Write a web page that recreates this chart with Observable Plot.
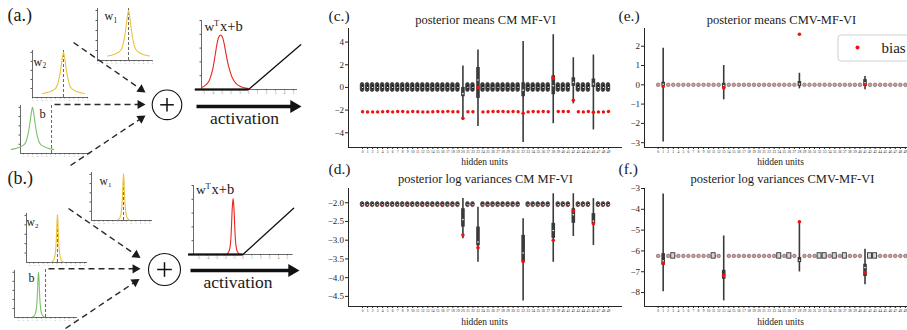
<!DOCTYPE html>
<html><head><meta charset="utf-8">
<script src="https://cdn.jsdelivr.net/npm/d3@7"></script>
<script src="https://cdn.jsdelivr.net/npm/@observablehq/plot@0.6"></script>
<style>
html,body{margin:0;padding:0;background:#fff;}
#fig{position:relative;width:907px;height:330px;overflow:hidden;background:#fff;font-family:'Liberation Serif','DejaVu Serif',serif;}
#fig > svg{position:absolute;overflow:visible;}
#fig text{font-family:'Liberation Serif','DejaVu Serif',serif;}
</style></head><body><div id="fig"></div>
<script>
// ---------------- DATA ----------------
const units = d3.range(50); // hidden units 0..49

// (c) posterior means CM MF-VI
const cYTicks = [-4, -2, 0, 2, 4];
const cSpecial = [20, 23, 32, 38, 42, 46];
const cMin = [-2.9, -3.45, -4.85, -3.2, -1.45, -3.75];
const cQ1  = [-0.82, -0.97, -0.82, -0.64, 0.1, 0.0];
const cMed = [-0.55, 0.65, -0.24, 0.15, 0.45, 0.3];
const cQ3  = [0.0, 1.76, 0.41, 1.03, 0.85, 0.74];
const cMax = [1.9, 3.3, 4.06, 4.65, 2.62, 2.86];
const cNormalCenter = 0;
const cBias = [-2.15,-2.17,-2.16,-2.16,-2.14,-2.12,-2.16,-2.13,-2.13,-2.16,
               -2.12,-2.15,-2.16,-2.16,-2.15,-2.12,-2.14,-2.11,-2.15,-2.15,
               -2.72,-2.15,-2.15,0.0,-2.16,-2.15,-2.13,-2.13,-2.12,-2.14,
               -2.12,-2.14,-2.28,-2.16,-2.13,-2.15,-2.12,-2.15,0.82,-2.13,
               -2.13,-2.13,-1.13,-2.14,-2.16,-2.13,-2.2,-2.16,-2.16,-2.13];

// (d) posterior log variances CM MF-VI
const dYTicks = [-4.5, -4.0, -3.5, -3.0, -2.5, -2.0];
const dSpecial = [20, 23, 32, 38, 42, 46];
const dMin = [-2.96, -3.59, -4.62, -3.59, -2.9, -3.14];
const dQ1  = [-2.65, -3.15, -3.59, -2.95, -2.55, -2.56];
const dMed = [-2.45, -3.05, -3.34, -2.74, -2.32, -2.49];
const dQ3  = [-2.16, -2.65, -2.87, -2.55, -2.16, -2.29];
const dMax = [-1.89, -2.12, -2.43, -1.76, -1.76, -1.89];
const dNormalCenter = -2.05;
const dBias = [-2.07,-2.08,-2.06,-2.07,-2.08,-2.07,-2.06,-2.07,-2.05,-2.09,
               -2.06,-2.07,-2.08,-2.07,-2.07,-2.06,-2.08,-2.07,-2.07,-2.06,
               -2.86,-2.07,-2.06,-3.2,-2.07,-2.08,-2.06,-2.07,-2.07,-2.06,
               -2.07,-2.06,-3.57,-2.07,-2.06,-2.07,-2.08,-2.07,-3.0,-2.06,
               -2.07,-2.08,-2.22,-2.07,-2.06,-2.07,-2.56,-2.07,-2.06,-2.07];

// (e) posterior means CMV-MF-VI
const eYTicks = [-3, -2, -1, 0, 1, 2];
const eSpecial = [1, 13, 28, 41];
const eMin = [-2.97, -0.78, -0.21, -0.26];
const eQ1  = [-0.07, -0.18, -0.09, -0.09];
const eMed = [0.03, -0.05, 0.04, 0.1];
const eQ3  = [0.13, 0.08, 0.17, 0.27];
const eMax = [1.9, 1.0, 0.6, 0.43];
const eNormalCenter = 0;
const eBias = [0,-0.09,0,0,0,0,0,0,0,0, 0,0,0,-0.16,0,0,0,0,0,0,
               0,0,0,0,0,0,0,0,2.62,0, 0,0,0,0,0,0,0,0,0,0,
               0,0.0,0,0,0,0,0,0,0,0];

// (f) posterior log variances CMV-MF-VI
const fYTicks = [-8, -7, -6, -5, -4, -3];
const fSpecial = [1, 13, 28, 41];
const fMin = [-7.96, -8.4, -7.01, -7.63];
const fQ1  = [-6.69, -7.36, -6.56, -7.23];
const fMed = [-6.48, -7.2, -6.45, -6.8];
const fQ3  = [-6.13, -6.93, -6.32, -6.64];
const fMax = [-3.27, -5.28, -4.61, -5.92];
const fNormalCenter = -6.24;
const fBoxUnits = [3, 11, 24, 26, 32, 33, 35, 37, 42, 43];
const fBias = [-6.24,-6.59,-6.24,-6.24,-6.24,-6.24,-6.24,-6.24,-6.24,-6.24,
               -6.24,-6.22,-6.24,-7.17,-6.24,-6.24,-6.24,-6.24,-6.24,-6.24,
               -6.24,-6.24,-6.24,-6.24,-6.24,-6.24,-6.24,-6.24,-4.6,-6.24,
               -6.24,-6.24,-6.24,-6.24,-6.24,-6.24,-6.24,-6.24,-6.24,-6.24,
               -6.24,-7.04,-6.24,-6.24,-6.24,-6.24,-6.24,-6.24,-6.24,-6.24];

// schematic densities (a.) broad, (b.) narrow
const wideOffsets = [-4.6,-4,-3.4,-2.8,-2.2,-1.75,-1.4,-1.1,-0.8,-0.5,-0.25,0,0.25,0.5,0.8,1.1,1.4,1.75,2.2,2.8,3.4,4,4.6];
const wideHeights = [0.09,0.1,0.115,0.135,0.165,0.2,0.26,0.36,0.5,0.7,0.88,1,0.88,0.7,0.5,0.36,0.26,0.2,0.165,0.135,0.115,0.1,0.09];
const narrowOffsets = [-1.3,-1.0,-0.7,-0.5,-0.35,-0.2,-0.1,0,0.1,0.2,0.35,0.5,0.7,1.0,1.3];
const narrowHeights = [0.01,0.03,0.08,0.17,0.32,0.6,0.87,1,0.87,0.6,0.32,0.17,0.08,0.03,0.01];
const miniNames = ["w1a","w2a","ba","w1b","w2b","bb"];
const miniMeans = [0.77, 0.75, -5.0, 0.33, 0.1, -1.62];
const miniMarkers = [0.77, 0.75, -0.86, 0.33, 0.1, -0.1];
const miniXTicks = [-7,-6,-5,-4,-3,-2,-1,0,1,2,3,4,5,6,7];
const densityYTicks = [0.2, 0.4, 0.6, 0.8, 1.0];

// pre-activation densities and ReLU
const reluXTicks = [-5,-4,-3,-2,-1,0,1,2,3,4,5];
const reluRedAx = [-5.2,-4.8,-4.4,-4.0,-3.7,-3.5,-3.3,-3.1,-2.9,-2.7,-2.5,-2.2,-1.8,-1.4,-1.0,-0.5,0];
const reluRedAy = [0.03,0.06,0.12,0.28,0.5,0.66,0.76,0.79,0.76,0.66,0.52,0.33,0.17,0.09,0.05,0.025,0.015];
const reluRedBx = [-1.75,-1.55,-1.4,-1.3,-1.2,-1.1,-1.0,-0.9,-0.8,-0.65,-0.45];
const reluRedBy = [0.01,0.05,0.15,0.36,0.66,0.81,0.66,0.36,0.15,0.05,0.01];
const reluAX = [-5.9, 0, 5.8], reluAY = [0, 0, 0.65];
const reluBX = [-6.1, 0, 5.7], reluBY = [0, 0, 0.67];

// ---------------- LAYOUT / DRAW ----------------
const fig = document.getElementById("fig");
const SERIF = "'Liberation Serif', 'DejaVu Serif', serif";
const INK = "#262626";
function place(svg, left, top) {
  svg.style.position = "absolute";
  svg.style.left = left + "px";
  svg.style.top = top + "px";
  fig.appendChild(svg);
}

function violinPanel(o) {
  const normal = units.filter(u => !o.special.includes(u));
  const sp = o.special.map((u, i) => ({u, lo: o.min[i], q1: o.q1[i], med: o.med[i], q3: o.q3[i], hi: o.max[i]}));
  const spBias = o.special.map(u => ({u, v: o.bias[u]}));
  const nBias = normal.map(u => ({u, v: o.bias[u]}));
  const marks = [
    Plot.ruleX([o.xd[0]], {y1: o.yd[0], y2: o.yd[1], stroke: INK, strokeWidth: 1}),
    Plot.ruleY([o.yd[0]], {x1: o.xd[0], x2: o.xd[1], stroke: INK, strokeWidth: 1}),
    Plot.axisY(o.yticks, {anchor: "left", label: null, tickSize: 3, tickPadding: 1.5, fontSize: 9, tickFormat: o.fmt, color: INK}),
    Plot.axisX(units, {anchor: "bottom", label: null, tickSize: 2, tickPadding: 0.8, fontSize: 3.6, color: INK})
  ];
  if (o.kind === "violin") {
    marks.push(Plot.rect(normal, {x1: d => d - 0.36, x2: d => d + 0.36, y1: o.center - o.half, y2: o.center + o.half, rx: 1.8,
      fill: o.body, stroke: "#222", strokeWidth: 0.6}));
    marks.push(Plot.ruleX(normal, {x: d => d, y1: o.center - o.half * 0.45, y2: o.center + o.half * 0.45, stroke: "#141414", strokeWidth: 1.3}));
    marks.push(Plot.dot(nBias, {x: "u", y: "v", r: o.normalRedR, fill: "#f01010"}));
    marks.push(Plot.dot(normal, {x: d => d, y: o.center, r: 0.65, fill: "white"}));
  } else {
    marks.push(Plot.dot(nBias, {x: "u", y: "v", r: 1.4, fill: "#f01010"}));
    marks.push(Plot.dot(normal, {x: d => d, y: o.center, r: 1.8, fill: "#c9b3b3", fillOpacity: 0.85, stroke: "#7a6464", strokeWidth: 0.7}));
    if (o.boxes) marks.push(Plot.rect(o.boxes, {x1: d => d - 0.4, x2: d => d + 0.4, y1: o.center - 0.13, y2: o.center + 0.13,
      fill: "#d6d6d6", stroke: "#333", strokeWidth: 0.9}));
  }
  marks.push(Plot.ruleX(sp, {x: "u", y1: "lo", y2: "hi", stroke: "#3a3a3a", strokeWidth: 1.6}));
  marks.push(Plot.ruleX(sp, {x: "u", y1: "q1", y2: "q3", stroke: "#3a3a3a", strokeWidth: 3.6}));
  marks.push(Plot.dot(sp, {x: "u", y: "med", r: 0.8, fill: "white"}));
  marks.push(Plot.dot(spBias, {x: "u", y: "v", r: 1.8, fill: "#f01010"}));
  const svg = Plot.plot({
    width: o.w, height: o.h, marginLeft: o.mL, marginRight: o.mR, marginTop: o.mT, marginBottom: o.mB,
    x: {type: "linear", domain: o.xd}, y: {domain: o.yd},
    style: {background: "transparent", fontFamily: SERIF, overflow: "visible"},
    marks
  });
  place(svg, o.left, o.top);
}

violinPanel({left: 300, top: 0, w: 322, h: 165, mL: 48, mR: 0, mT: 28, mB: 18, xd: [-2.8, 51.8], yd: [-5.3, 5.2],
  yticks: cYTicks, fmt: d3.format("d"), special: cSpecial, min: cMin, q1: cQ1, med: cMed, q3: cQ3, max: cMax,
  bias: cBias, kind: "violin", center: cNormalCenter, half: 0.4, normalRedR: 1.7, body: "#3e3e3e"});
violinPanel({left: 300, top: 165, w: 322, h: 165, mL: 48, mR: 0, mT: 23, mB: 24, xd: [-2.8, 51.8], yd: [-4.77, -1.62],
  yticks: dYTicks, fmt: d3.format(".1f"), special: dSpecial, min: dMin, q1: dQ1, med: dMed, q3: dQ3, max: dMax,
  bias: dBias, kind: "violin", center: dNormalCenter, half: 0.068, normalRedR: 1.0, body: "#555"});
violinPanel({left: 610, top: 0, w: 310, h: 165, mL: 34, mR: 1, mT: 28, mB: 18, xd: [-2.7, 51.8], yd: [-3.25, 2.92],
  yticks: eYTicks, fmt: d3.format("d"), special: eSpecial, min: eMin, q1: eQ1, med: eMed, q3: eQ3, max: eMax,
  bias: eBias, kind: "dots", center: eNormalCenter});
violinPanel({left: 610, top: 165, w: 310, h: 165, mL: 34, mR: 1, mT: 23, mB: 24, xd: [-2.7, 51.8], yd: [-8.67, -3.0],
  yticks: fYTicks, fmt: d3.format("d"), special: fSpecial, min: fMin, q1: fQ1, med: fMed, q3: fQ3, max: fMax,
  bias: fBias, kind: "dots", center: fNormalCenter, boxes: fBoxUnits});

// mini density charts
const miniLayout = {
  w1a: {x0: 97, x1: 152, y0: 60, y1: 8, xd: [-6, 6], wide: true, color: "#ecc23e", top: 1.04},
  w2a: {x0: 32, x1: 88, y0: 97, y1: 50, xd: [-6, 6.2], wide: true, color: "#ecc23e", top: 1.04},
  ba:  {x0: 20, x1: 90, y0: 153, y1: 105, xd: [-7.6, 7.6], wide: true, color: "#7cc26a", top: 1.07},
  w1b: {x0: 91, x1: 152, y0: 220, y1: 172, xd: [-6.6, 6.6], wide: false, color: "#ecc23e", top: 1.0},
  w2b: {x0: 26, x1: 87, y0: 262, y1: 213, xd: [-6.6, 6.6], wide: false, color: "#ecc23e", top: 1.0},
  bb:  {x0: 14, x1: 77, y0: 317, y1: 270, xd: [-6.8, 6.8], wide: false, color: "#7cc26a", top: 1.08}
};
miniNames.forEach((name, i) => {
  const L = miniLayout[name];
  const mL = 14, mR = 3, mT = 4, mB = 7;
  const offs = L.wide ? wideOffsets : narrowOffsets;
  const hts = L.wide ? wideHeights : narrowHeights;
  const pts = offs.map((d, j) => ({x: miniMeans[i] + d, y: hts[j]}));
  const ticks = miniXTicks.filter(t => t >= L.xd[0] && t <= L.xd[1]);
  const svg = Plot.plot({
    width: L.x1 - L.x0 + mL + mR, height: L.y0 - L.y1 + mT + mB,
    marginLeft: mL, marginRight: mR, marginTop: mT, marginBottom: mB,
    x: {domain: L.xd}, y: {domain: [0, 1.04]},
    style: {background: "transparent", fontFamily: SERIF, overflow: "visible"},
    marks: [
      Plot.axisX(ticks, {anchor: "bottom", label: null, tickSize: 1.5, tickPadding: 0.5, fontSize: 2.4, color: "#8a8a8a"}),
      Plot.axisY(densityYTicks, {anchor: "left", label: null, tickSize: 1.5, tickFormat: () => "", color: "#555"}),
      Plot.ruleX([L.xd[0]], {y1: 0, y2: 1.04, stroke: "#444", strokeWidth: 0.8}),
      Plot.ruleY([0], {x1: L.xd[0], x2: L.xd[1], stroke: "#444", strokeWidth: 0.8}),
      Plot.ruleX([miniMarkers[i]], {y1: 0, y2: L.top, stroke: "#555", strokeWidth: 0.9, strokeDasharray: "3,2"}),
      Plot.line(pts, {x: "x", y: "y", stroke: L.color, strokeWidth: 1.1, curve: "catmull-rom"})
    ]
  });
  place(svg, L.x0 - mL, L.y1 - mT);
});

// pre-activation + ReLU charts
function reluChart(L, rx, ry, lx, ly) {
  const mL = 14, mR = 6, mT = 4, mB = 8;
  const red = rx.map((x, j) => ({x, y: ry[j]}));
  const relu = lx.map((x, j) => ({x, y: ly[j]}));
  const svg = Plot.plot({
    width: L.x1 - L.x0 + mL + mR, height: L.y0 - L.y1 + mT + mB,
    marginLeft: mL, marginRight: mR, marginTop: mT, marginBottom: mB,
    x: {domain: L.xd}, y: {domain: [0, 1]},
    style: {background: "transparent", fontFamily: SERIF, overflow: "visible"},
    marks: [
      Plot.axisX(reluXTicks, {anchor: "bottom", label: null, tickSize: 1.5, tickPadding: 0.8, fontSize: 3.2, color: "#777", tickFormat: d3.format("d")}),
      Plot.axisY(densityYTicks, {anchor: "left", label: null, tickSize: 1.5, tickFormat: () => "", color: "#555"}),
      Plot.ruleX([L.xd[0]], {y1: 0, y2: 1, stroke: "#444", strokeWidth: 0.8}),
      Plot.ruleY([0], {x1: lx[0], x2: L.xd[1], stroke: "#444", strokeWidth: 0.8}),
      Plot.line(red, {x: "x", y: "y", stroke: "#e8261e", strokeWidth: 1.1, curve: "catmull-rom"}),
      Plot.ruleY([0], {x1: lx[0], x2: lx[1], stroke: "#111", strokeWidth: 2.2}),
      Plot.line(relu, {x: "x", y: "y", stroke: "#111", strokeWidth: 1.3})
    ]
  });
  place(svg, L.x0 - mL, L.y1 - mT);
}
reluChart({x0: 201, x1: 297, y0: 89, y1: 20, xd: [-5.22, 5.44]}, reluRedAx, reluRedAy, reluAX, reluAY);
reluChart({x0: 193.3, x1: 293, y0: 254, y1: 185, xd: [-5.55, 5.65]}, reluRedBx, reluRedBy, reluBX, reluBY);

// overlay: arrows, sums, labels, titles, legend
function arrow(x1, y1, x2, y2, hr) {
  const dx = x2 - x1, dy = y2 - y1, Ln = Math.hypot(dx, dy), ux = dx / Ln, uy = dy / Ln;
  const ry = Math.sqrt(Math.PI * hr * hr / (3 * Math.sqrt(3)));
  const cx = x2 - ux * 2 * ry, cy = y2 - uy * 2 * ry;
  return {shaft: {x1, y1, x2: cx - ux * ry * 0.6, y2: cy - uy * ry * 0.6},
          head: {x: cx, y: cy, rot: Math.atan2(dy, dx) * 180 / Math.PI + 90}};
}
const dashedA = [[73, 42, 145, 92], [54, 104, 145, 104], [70, 165, 145, 115],
                 [68, 208, 140, 257.5], [48, 268.3, 140, 268.3], [65, 328, 139, 278.5]].map(a => arrow(...a, 3.4));
const thickA = [[196, 106, 301, 106], [190, 270, 299, 270]].map(a => arrow(...a, 4.8));
const sums = [{x: 166.5, y: 104.3, r: 14.8, h: 6.8}, {x: 164, y: 269, r: 16, h: 7.3}];
const plusLinks = sums.flatMap(s => [{x1: s.x - s.h, y1: s.y, x2: s.x + s.h, y2: s.y}, {x1: s.x, y1: s.y - s.h, x2: s.x, y2: s.y + s.h}]);
const bl = (b, fs) => b - 0.32 * fs;
const startTexts = [
  {t: "(a.)", x: 7, b: 20, fs: 18}, {t: "(b.)", x: 7, b: 183, fs: 18},
  {t: "(c.)", x: 328, b: 20.5, fs: 15.5}, {t: "(d.)", x: 328, b: 173, fs: 15.5},
  {t: "(e.)", x: 618, b: 20.5, fs: 15.5}, {t: "(f.)", x: 618, b: 173, fs: 15.5},
  {t: "w", x: 104, b: 19.5, fs: 12}, {t: "1", x: 113, b: 22, fs: 7.5},
  {t: "w", x: 33, b: 65, fs: 12}, {t: "2", x: 42, b: 67.5, fs: 7.5},
  {t: "b", x: 39, b: 117, fs: 12.5},
  {t: "w", x: 204, b: 30.5, fs: 13.5}, {t: "T", x: 213.5, b: 25.5, fs: 8.5}, {t: "x+b", x: 219.5, b: 30.5, fs: 14.5},
  {t: "w", x: 99, b: 184, fs: 11.5}, {t: "1", x: 107.5, b: 186.5, fs: 7},
  {t: "w", x: 26, b: 225, fs: 11.5}, {t: "2", x: 34.5, b: 227.5, fs: 7},
  {t: "b", x: 28, b: 281, fs: 12},
  {t: "w", x: 195.5, b: 193.5, fs: 13.5}, {t: "T", x: 205, b: 188.5, fs: 8.5}, {t: "x+b", x: 211, b: 193.5, fs: 14.5},
  {t: "bias", x: 881, b: 52, fs: 15}
];
const midTexts = [
  {t: "activation", x: 244, b: 123, fs: 17.5}, {t: "activation", x: 237.5, b: 287.5, fs: 17.5},
  {t: "posterior means CM MF-VI", x: 485, b: 23.5, fs: 12.5},
  {t: "posterior log variances CM MF-VI", x: 485, b: 182.5, fs: 12.5},
  {t: "posterior means CMV-MF-VI", x: 781, b: 23.5, fs: 12.5},
  {t: "posterior log variances CMV-MF-VI", x: 782, b: 182.5, fs: 12.5},
  {t: "hidden units", x: 484, b: 164.5, fs: 9.5}, {t: "hidden units", x: 780, b: 164.5, fs: 9.5},
  {t: "hidden units", x: 484, b: 324, fs: 9.5}, {t: "hidden units", x: 780, b: 324, fs: 9.5}
];
const overlay = Plot.plot({
  width: 907, height: 330, margin: 0,
  x: {domain: [0, 907], range: [0, 907], axis: null},
  y: {domain: [0, 330], range: [0, 330], axis: null},
  style: {background: "transparent", fontFamily: SERIF, overflow: "visible"},
  marks: [
    Plot.link(dashedA.map(a => a.shaft), {x1: "x1", y1: "y1", x2: "x2", y2: "y2", stroke: "#2a2a2a", strokeWidth: 1.4, strokeDasharray: "6,4"}),
    Plot.dot(dashedA.map(a => a.head), {x: "x", y: "y", rotate: "rot", symbol: "triangle", r: 3.4, fill: "#1a1a1a", stroke: "none"}),
    Plot.link(thickA.map(a => a.shaft), {x1: "x1", y1: "y1", x2: "x2", y2: "y2", stroke: "#111", strokeWidth: 3.4}),
    Plot.dot(thickA.map(a => a.head), {x: "x", y: "y", rotate: "rot", symbol: "triangle", r: 4.8, fill: "#111", stroke: "none"}),
    Plot.dot(sums.slice(0, 1), {x: "x", y: "y", r: 14.8, fill: "white", stroke: "#111", strokeWidth: 1.1}),
    Plot.dot(sums.slice(1), {x: "x", y: "y", r: 16, fill: "white", stroke: "#111", strokeWidth: 1.1}),
    Plot.link(plusLinks, {x1: "x1", y1: "y1", x2: "x2", y2: "y2", stroke: "#111", strokeWidth: 1.5}),
    Plot.rect([{x1: 838, x2: 930, y1: 35, y2: 61}], {x1: "x1", x2: "x2", y1: "y1", y2: "y2", fill: "white", stroke: "#cfcfcf", strokeWidth: 1, rx: 3}),
    Plot.dot([{x: 857, y: 47}], {x: "x", y: "y", r: 2, fill: "#f01010"}),
    Plot.text(startTexts, {x: "x", y: d => bl(d.b, d.fs), text: "t", fontSize: d => d.fs, textAnchor: "start", lineAnchor: "middle", fill: "#1a1a1a"}),
    Plot.text(midTexts, {x: "x", y: d => bl(d.b, d.fs), text: "t", fontSize: d => d.fs, textAnchor: "middle", lineAnchor: "middle", fill: "#1a1a1a"})
  ]
});
place(overlay, 0, 0);
overlay.style.pointerEvents = "none";
</script></body></html>
